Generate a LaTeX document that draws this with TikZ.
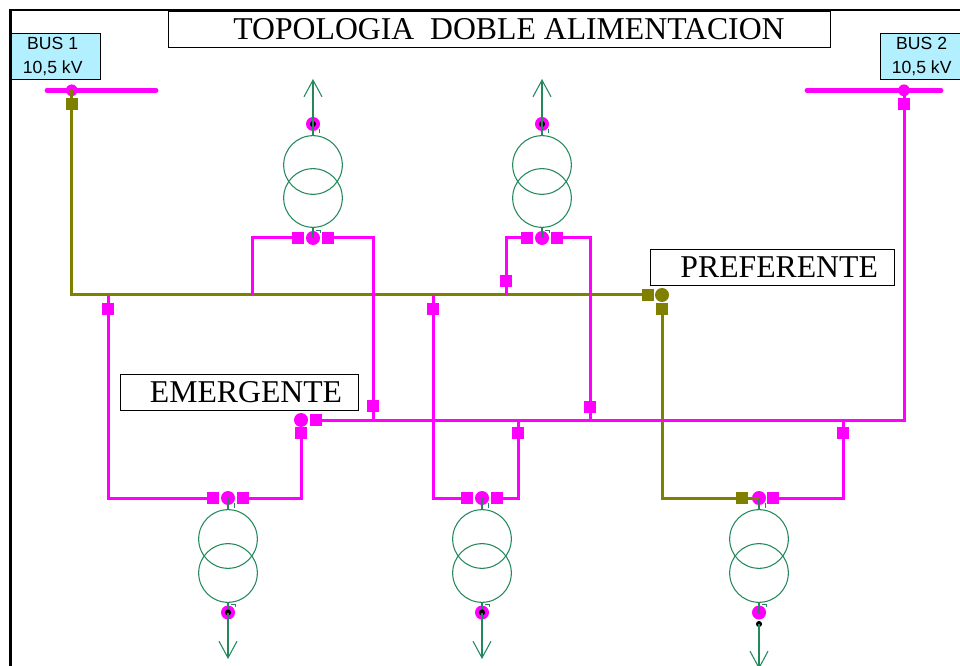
\documentclass[tikz,border=0pt]{standalone}
\usepackage{fontspec}
\setmainfont{Liberation Serif}
\newfontfamily\busfont{Liberation Sans}
\usetikzlibrary{arrows.meta}
\definecolor{busmagenta}{HTML}{FF00FF}
\definecolor{feedolive}{HTML}{808000}
\definecolor{trafogreen}{HTML}{23895C}
\definecolor{busblue}{HTML}{B3F0FF}
\tikzset{
  magline/.style={draw=busmagenta, line width=2.25pt},
  oliveline/.style={draw=feedolive, line width=2.25pt},
  greenline/.style={draw=trafogreen, line width=0.8pt},
  busbar/.style={draw=busmagenta, line width=3.6pt, line cap=round},
  magbreaker/.style={rectangle, fill=busmagenta, minimum size=9pt, inner sep=0pt},
  olivebreaker/.style={rectangle, fill=feedolive, minimum size=9pt, inner sep=0pt},
  magjoint/.style={circle, fill=busmagenta, minimum size=10.5pt, inner sep=0pt},
  olivejoint/.style={circle, fill=feedolive, minimum size=10.5pt, inner sep=0pt},
  busjoint/.style={circle, fill=busmagenta, minimum size=8.8pt, inner sep=0pt},
  blackdot/.style={circle, fill=black, minimum size=4.6pt, inner sep=0pt},
  winding/.style={circle, draw=trafogreen, line width=0.8pt, minimum size=44pt, inner sep=0pt},
  namebox/.style={rectangle, draw=black, line width=0.7pt, fill=white, inner sep=0pt, font=\fontsize{23.8}{25}\selectfont},
  busbox/.style={rectangle, draw=black, line width=0.7pt, fill=busblue, inner sep=0pt, align=center, font=\busfont\fontsize{13.2}{18}\selectfont},
  outarrow/.style={greenline, -{Straight Barb[length=12.5pt,width=13.5pt,line width=0.8pt]}},
}
\begin{document}
\begin{tikzpicture}[x=0.75pt,y=-0.75pt]

        \useasboundingbox (0,0) rectangle (960,666);

        % Frame
        \draw[line width=1.6pt] (10.5,666) -- (10.5,10) -- (960,10);

        % Labels
        \node[namebox, minimum width=496.5pt, minimum height=27.5pt] (title) at (499,29.5) {\hspace{15pt}TOPOLOGIA\ \ DOBLE ALIMENTACION};
        \node[namebox, minimum width=183.5pt, minimum height=27.5pt] (preflabel) at (772.5,267.5) {\hspace{10pt}PREFERENTE};
        \node[namebox, minimum width=178.5pt, minimum height=27.5pt] (emerlabel) at (239,392.5) {\hspace{10.5pt}EMERGENTE};
        \node[busbox, minimum width=66.5pt, minimum height=35pt] (bus1box) at (56,56.5) {\raisebox{-0.7pt}{BUS 1}\hspace*{5pt}\\\raisebox{-0.7pt}{10,5 kV}\hspace*{5pt}};
        \node[busbox, minimum width=66.5pt, minimum height=35pt] (bus2box) at (925,56.5) {\raisebox{-0.7pt}{BUS 2}\hspace*{5pt}\\\raisebox{-0.7pt}{10,5 kV}\hspace*{5pt}};

        % Bus 1
        \coordinate (bus1l) at (47,90.3);
        \coordinate (bus1r) at (156,90.3);
        \draw[busbar] (bus1l) -- (bus1r);
        \node[busjoint] (bus1j) at (71.7,90.3) {};
        \node[olivebreaker] (bus1k) at (71.7,104.5) {};

        % Bus 2
        \coordinate (bus2l) at (807,90.3);
        \coordinate (bus2r) at (941,90.3);
        \draw[busbar] (bus2l) -- (bus2r);
        \node[busjoint] (bus2j) at (904,90.3) {};
        \node[magbreaker] (bus2k) at (904,104.5) {};

        % Preferente feeder
        \node[olivebreaker] (prefk1) at (648,295) {};
        \node[olivejoint] (prefj) at (662,295) {};
        \node[olivebreaker] (prefk2) at (662,309) {};

        % Emergente feeder
        \node[magjoint] (emerj) at (301,420) {};
        \node[magbreaker] (emerk1) at (316,420) {};
        \node[magbreaker] (emerk2) at (301,433) {};

        % Transformers, top row
        \foreach \tx in {313,542} {
          \node[winding] (up\tx) at (\tx,165) {};
          \node[winding] (lo\tx) at (\tx,198) {};
          \node[magjoint] (sec\tx) at (\tx,124) {};
          \node[blackdot] (dot\tx) at (\tx,124) {};
          \node[magjoint] (prim\tx) at (\tx,238) {};
          \node[magbreaker] (left\tx) at (\tx-15,238) {};
          \node[magbreaker] (right\tx) at (\tx+15,238) {};
          \coordinate (out\tx) at (\tx,79);
          \draw[outarrow] (sec\tx.center) -- (out\tx);
          \draw[greenline] (sec\tx.center) -- (up\tx.north);
          \draw[greenline] (lo\tx.south) -- (prim\tx.center);
          \draw[greenline, line width=0.6pt] (\tx+6,129) -- (\tx+6,133);
          \draw[greenline, line width=0.6pt] (\tx+3,230) -- (\tx+7,230) -- (\tx+7,233);
        }

        % Transformers, bottom row
        \foreach \tx in {228,482,759} {
          \node[winding] (up\tx) at (\tx,539) {};
          \node[winding] (lo\tx) at (\tx,573) {};
          \node[magjoint] (prim\tx) at (\tx,498) {};
          \node[magjoint] (sec\tx) at (\tx,612.5) {};
          \draw[greenline] (prim\tx.center) -- (up\tx.north);
          \draw[greenline] (lo\tx.south) -- (sec\tx.center);
          \draw[greenline, line width=0.6pt] (\tx+6,503) -- (\tx+6,508);
          \draw[greenline, line width=0.6pt] (\tx+3,604) -- (\tx+7,604) -- (\tx+7,607);
        }
        \node[magbreaker] (left228) at (213,498) {};
        \node[magbreaker] (right228) at (243,498) {};
        \node[magbreaker] (left482) at (467,498) {};
        \node[magbreaker] (right482) at (497,498) {};
        \node[olivebreaker] (left759) at (742,498) {};
        \node[magbreaker] (right759) at (773,498) {};

        % Outgoing arrows, bottom row
        \node[blackdot] (dot228) at (228,612.5) {};
        \node[blackdot] (dot482) at (482,612.5) {};
        \node[blackdot] (dot759) at (759,624) {};
        \coordinate (out228) at (228,659);
        \coordinate (out482) at (482,659);
        \coordinate (out759) at (759,669);
        \draw[outarrow] (dot228.center) -- (out228);
        \draw[outarrow] (dot482.center) -- (out482);
        \draw[outarrow] (dot759.center) -- (out759);

        % Preferente line
        \coordinate (prefbend) at (71.7,295);
        \draw[oliveline] (bus1j.center) -- (prefbend) -- (prefk1.center);
        \draw[oliveline] (prefk2.center) |- (prim759.center);

        % Emergente line
        \coordinate (emerend) at (904,420);
        \draw[magline] (bus2j.center) -- (emerend) -- (emerk1.center);

        % Taps on the preferente line
        \node[magbreaker] (tap108) at (108,309) {};
        \node[magbreaker] (tap433) at (433,309) {};
        \node[magbreaker] (tap506) at (506,281) {};
        \coordinate (join108) at (108,295);
        \coordinate (join252) at (252,295);
        \coordinate (join433) at (433,295);
        \coordinate (join506) at (506,295);
        \draw[magline] (join108) |- (left228.center);
        \draw[magline] (join252) |- (left313.center);
        \draw[magline] (join433) |- (left482.center);
        \draw[magline] (join506) |- (left542.center);

        % Taps on the emergente line
        \node[magbreaker] (tap373) at (373,406) {};
        \node[magbreaker] (tap590) at (590,407) {};
        \node[magbreaker] (tap518) at (518,433) {};
        \node[magbreaker] (tap843) at (843,433) {};
        \coordinate (join373) at (373,420);
        \coordinate (join590) at (590,420);
        \coordinate (join518) at (518,420);
        \coordinate (join843) at (843,420);
        \draw[magline] (join373) |- (right313.center);
        \draw[magline] (join590) |- (right542.center);
        \draw[magline] (join518) |- (right482.center);
        \draw[magline] (join843) |- (right759.center);
        \draw[magline] (emerk2.center) |- (right228.center);

\end{tikzpicture}
\end{document}
